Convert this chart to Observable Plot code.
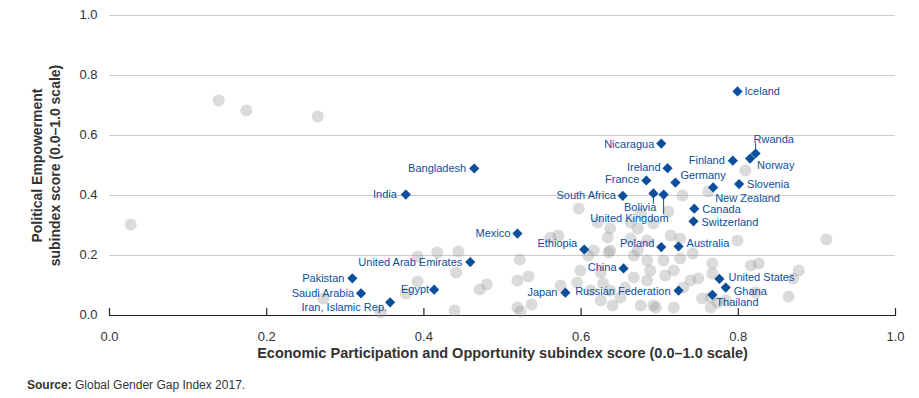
<!DOCTYPE html>
<html>
<head>
<meta charset="utf-8">
<script src="https://cdn.jsdelivr.net/npm/d3@7"></script>
<script src="https://cdn.jsdelivr.net/npm/@observablehq/plot@0.6"></script>
<style>
  html, body { margin: 0; padding: 0; background: #fff; }
  #chart svg { display: block; }
  .source { font-family: "Liberation Sans", Arial, sans-serif; font-size: 12px; color: #333; padding-left: 27px; margin-top: 8px; line-height: 14px; }
</style>
</head>
<body>
<div id="chart"></div>
<div class="source"><b>Source:</b> Global Gender Gap Index 2017.</div>
<script>
// ---- Data ----
const countries = ["Iceland","Nicaragua","Rwanda","Norway","Finland","Ireland","Germany","France","Slovenia","New Zealand","South Africa","Bolivia","United Kingdom","Canada","Switzerland","Bangladesh","India","Mexico","Ethiopia","Poland","Australia","United Arab Emirates","China","United States","Ghana","Russian Federation","Japan","Thailand","Pakistan","Saudi Arabia","Iran, Islamic Rep.","Egypt"];
const econScores = [0.799,0.702,0.822,0.815,0.793,0.710,0.720,0.683,0.801,0.768,0.653,0.692,0.705,0.744,0.743,0.464,0.377,0.519,0.604,0.702,0.724,0.459,0.654,0.776,0.784,0.724,0.580,0.767,0.309,0.320,0.357,0.413];
const polScores  = [0.747,0.573,0.540,0.523,0.516,0.491,0.443,0.450,0.438,0.427,0.399,0.407,0.403,0.356,0.314,0.490,0.403,0.273,0.220,0.228,0.230,0.178,0.157,0.122,0.093,0.083,0.076,0.069,0.124,0.074,0.044,0.086];

const otherEcon = [0.139,0.174,0.265,0.027,0.272,0.345,0.392,0.417,0.444,0.441,0.392,0.377,0.439,
  0.480,0.471,0.522,0.519,0.533,0.519,0.523,0.537,0.561,0.571,0.574,0.597,
  0.635,0.625,0.599,0.595,0.612,0.628,0.625,0.650,
  0.621,0.637,0.663,0.672,0.676,0.692,0.711,0.714,0.726,0.663,0.634,0.616,0.637,0.672,0.742,
  0.667,0.684,0.667,0.684,0.688,0.676,0.692,0.656,0.637,0.640,0.684,0.609,
  0.729,0.762,0.809,
  0.726,0.705,0.718,0.707,0.739,0.749,0.730,0.767,0.767,0.754,0.799,0.695,0.718,0.765,0.784,0.765,
  0.912,0.826,0.816,0.877,0.870,0.822,0.864,0.774];
const otherPol = [0.717,0.683,0.663,0.303,0.057,0.010,0.197,0.210,0.213,0.143,0.113,0.073,0.017,
  0.103,0.087,0.187,0.117,0.130,0.027,0.013,0.037,0.260,0.267,0.100,0.357,
  0.210,0.143,0.150,0.110,0.083,0.107,0.050,0.060,
  0.310,0.290,0.310,0.290,0.340,0.307,0.347,0.267,0.257,0.257,0.260,0.217,0.217,0.217,0.207,
  0.200,0.183,0.127,0.117,0.150,0.033,0.033,0.093,0.083,0.033,0.250,0.200,
  0.400,0.413,0.483,
  0.190,0.183,0.150,0.133,0.117,0.123,0.093,0.173,0.140,0.057,0.250,0.027,0.027,0.060,0.050,0.027,
  0.253,0.173,0.167,0.150,0.123,0.077,0.063,0.043];

const xTicks = [0, 0.2, 0.4, 0.6, 0.8, 1.0];
const yTicks = [0, 0.2, 0.4, 0.6, 0.8, 1.0];
const xTitle = "Economic Participation and Opportunity subindex score (0.0–1.0 scale)";
const yTitle = "Political Empowerment\nsubindex score (0.0–1.0 scale)";

// ---- Label placement (style) ----
const placement = {
  "Iceland": ["start", 7, 0],
  "Nicaragua": ["end", -7, 1],
  "Rwanda": ["start", -2, -14],
  "Norway": ["start", 7, 7],
  "Finland": ["end", -8, 0],
  "Ireland": ["end", -7, -1],
  "Germany": ["start", 5, -7],
  "France": ["end", -7, -1],
  "Slovenia": ["start", 8, 0],
  "New Zealand": ["start", 2, 11],
  "South Africa": ["end", -7, 0],
  "Bolivia": ["end", 3, 14],
  "United Kingdom": ["end", 5, 24],
  "Canada": ["start", 8, 1],
  "Switzerland": ["start", 8, 1],
  "Bangladesh": ["end", -8, 0],
  "India": ["end", -9, 0],
  "Mexico": ["end", -7, 0],
  "Ethiopia": ["end", -7, -6],
  "Poland": ["end", -7, -4],
  "Australia": ["start", 8, -3],
  "United Arab Emirates": ["end", -8, 0],
  "China": ["end", -7, -1],
  "United States": ["start", 9, -1],
  "Ghana": ["start", 8, 4],
  "Russian Federation": ["end", -8, 1],
  "Japan": ["end", -8, 0],
  "Thailand": ["start", 4, 8],
  "Pakistan": ["end", -8, 0],
  "Saudi Arabia": ["end", -7, 0],
  "Iran, Islamic Rep.": ["end", -3, 5],
  "Egypt": ["end", -5, 0]
};
const leaders = {"Rwanda": [0, 10], "Bolivia": [180, 10], "United Kingdom": [180, 19]};

const highlighted = countries.map((name, i) => ({name, econ: econScores[i], pol: polScores[i]}));
const others = otherEcon.map((e, i) => ({econ: e, pol: otherPol[i]}));

const blue = "#0b4f9c";
const font = '"Liberation Sans", Arial, Helvetica, sans-serif';
const lineShape = {draw(ctx, l) { ctx.moveTo(0, 0); ctx.lineTo(0, -l); }};

const labelMarks = highlighted.map(d => {
  const [anchor, dx, dy] = placement[d.name];
  return Plot.text([d], {x: "econ", y: "pol", text: "name", textAnchor: anchor, dx, dy, fill: blue, fontSize: 11});
});
const leaderMarks = highlighted.filter(d => leaders[d.name]).map(d => {
  const [rot, len] = leaders[d.name];
  return Plot.vector([d], {x: "econ", y: "pol", rotate: rot, length: len, anchor: "start", stroke: blue, strokeWidth: 1, shape: lineShape});
});

const chart = Plot.plot({
  width: 919,
  height: 370,
  marginLeft: 109,
  marginRight: 24,
  marginTop: 15,
  marginBottom: 55,
  style: {fontFamily: font, color: "#333", background: "#fff", overflow: "visible"},
  x: {domain: [0, 1]},
  y: {domain: [0, 1]},
  marks: [
    Plot.gridY(yTicks.filter(d => d > 0), {stroke: "#cccccc", strokeOpacity: 1}),
    Plot.axisY({ticks: yTicks, tickSize: 0, tickPadding: 12, tickFormat: d3.format(".1f"), fontSize: 13, label: null, dy: -1}),
    Plot.axisX({ticks: xTicks, tickSize: 0, tickPadding: 16, tickFormat: d3.format(".1f"), fontSize: 13, label: null}),
    Plot.vector(xTicks, {x: d => d, y: () => yTicks[0], rotate: 0, length: 7, anchor: "start", stroke: "#231f20", strokeWidth: 1.2, shape: lineShape}),
    Plot.ruleY([yTicks[0]], {stroke: "#231f20", strokeWidth: 1.2}),
    Plot.dot(others, {x: "econ", y: "pol", r: 6, fill: "#999", fillOpacity: 0.35, stroke: "none"}),
    ...leaderMarks,
    Plot.dot(highlighted, {x: "econ", y: "pol", symbol: "diamond2", r: 4.6, fill: blue, stroke: "none"}),
    ...labelMarks,
    Plot.text([xTitle], {frameAnchor: "bottom", dy: 42, fontWeight: "bold", fontSize: 14.5, fill: "#333"}),
    Plot.text([yTitle], {frameAnchor: "left", textAnchor: "middle", rotate: -90, dx: -64, lineHeight: 1.3, fontWeight: "bold", fontSize: 14, fill: "#333"})
  ]
});
document.getElementById("chart").appendChild(chart);
</script>
</body>
</html>
